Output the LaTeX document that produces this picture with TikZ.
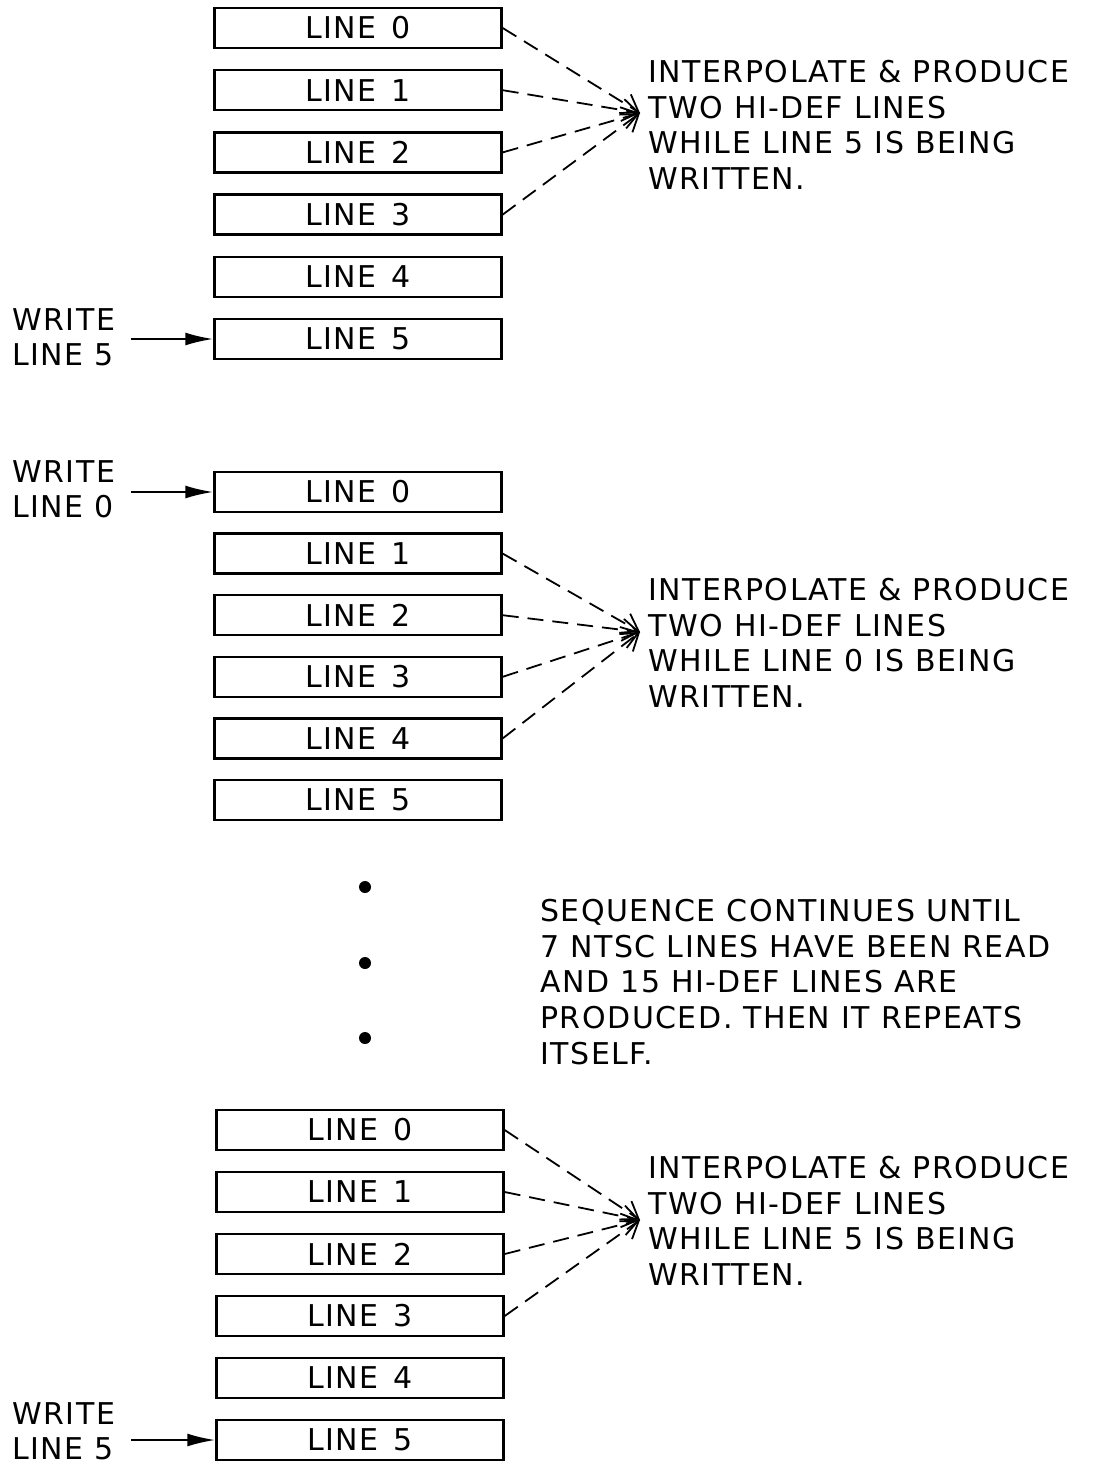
\documentclass[tikz,border=0pt]{standalone}
\usepackage{fontspec}
\setmainfont{DejaVu Sans}[LetterSpace=5]
\usetikzlibrary{arrows.meta}

\tikzset{
  linebox/.style={draw, line width=1.2pt, minimum width=143.5pt, minimum height=20pt, inner sep=0pt},
  note/.style={align=left, anchor=north west, inner sep=0pt},
  feed/.style={dash pattern=on 8pt off 4.5pt, line width=0.9pt, -{Straight Barb[length=8pt,width=11pt]}},
  writeto/.style={line width=1.1pt, shorten <=8pt, -{Latex[length=14pt,width=6.5pt]}}
}

\begin{document}
\begin{tikzpicture}[x=0.5pt, y=-0.5pt, font=\fontsize{15}{17.8}\selectfont]
\useasboundingbox (0,0) rectangle (1100,1467);

% first frame: line 5 written
\foreach \i in {0,...,5}
  \node [linebox] (a\i) at (358, 28+62.2*\i) {LINE\enspace\i};
\coordinate (ta) at (640, 113);
\foreach \i in {0,...,3}
  \draw [feed] (a\i.east) -- (ta);
\node [note] (notea) at (648, 60) {INTERPOLATE \& PRODUCE\\TWO HI-DEF LINES\\WHILE LINE 5 IS BEING\\WRITTEN.};
\node [note] (wa) at (12, 308) {WRITE\\LINE 5};
\draw [writeto] (wa.east |- a5.west) -- (a5.west);

% second frame: line 0 written
\foreach \i in {0,...,5}
  \node [linebox] (b\i) at (358, 492+61.6*\i) {LINE\enspace\i};
\coordinate (tb) at (640, 632);
\foreach \i in {1,...,4}
  \draw [feed] (b\i.east) -- (tb);
\node [note] (noteb) at (648, 578) {INTERPOLATE \& PRODUCE\\TWO HI-DEF LINES\\WHILE LINE 0 IS BEING\\WRITTEN.};
\node [note] (wb) at (12, 460) {WRITE\\LINE 0};
\draw [writeto] (wb.east |- b0.west) -- (b0.west);

% continuation
\fill (365, 887) circle (3pt);
\fill (365, 963) circle (3pt);
\fill (365, 1038) circle (3pt);
\node [note] (seq) at (540, 899) {SEQUENCE CONTINUES UNTIL\\7 NTSC LINES HAVE BEEN READ\\AND 15 HI-DEF LINES ARE\\PRODUCED. THEN IT REPEATS\\ITSELF.};

% last frame: line 5 written again
\foreach \i in {0,...,5}
  \node [linebox] (c\i) at (360, 1130+62*\i) {LINE\enspace\i};
\coordinate (tc) at (640, 1220);
\foreach \i in {0,...,3}
  \draw [feed] (c\i.east) -- (tc);
\node [note] (notec) at (648, 1156) {INTERPOLATE \& PRODUCE\\TWO HI-DEF LINES\\WHILE LINE 5 IS BEING\\WRITTEN.};
\node [note] (wc) at (12, 1402) {WRITE\\LINE 5};
\draw [writeto] (wc.east |- c5.west) -- (c5.west);

\end{tikzpicture}
\end{document}
